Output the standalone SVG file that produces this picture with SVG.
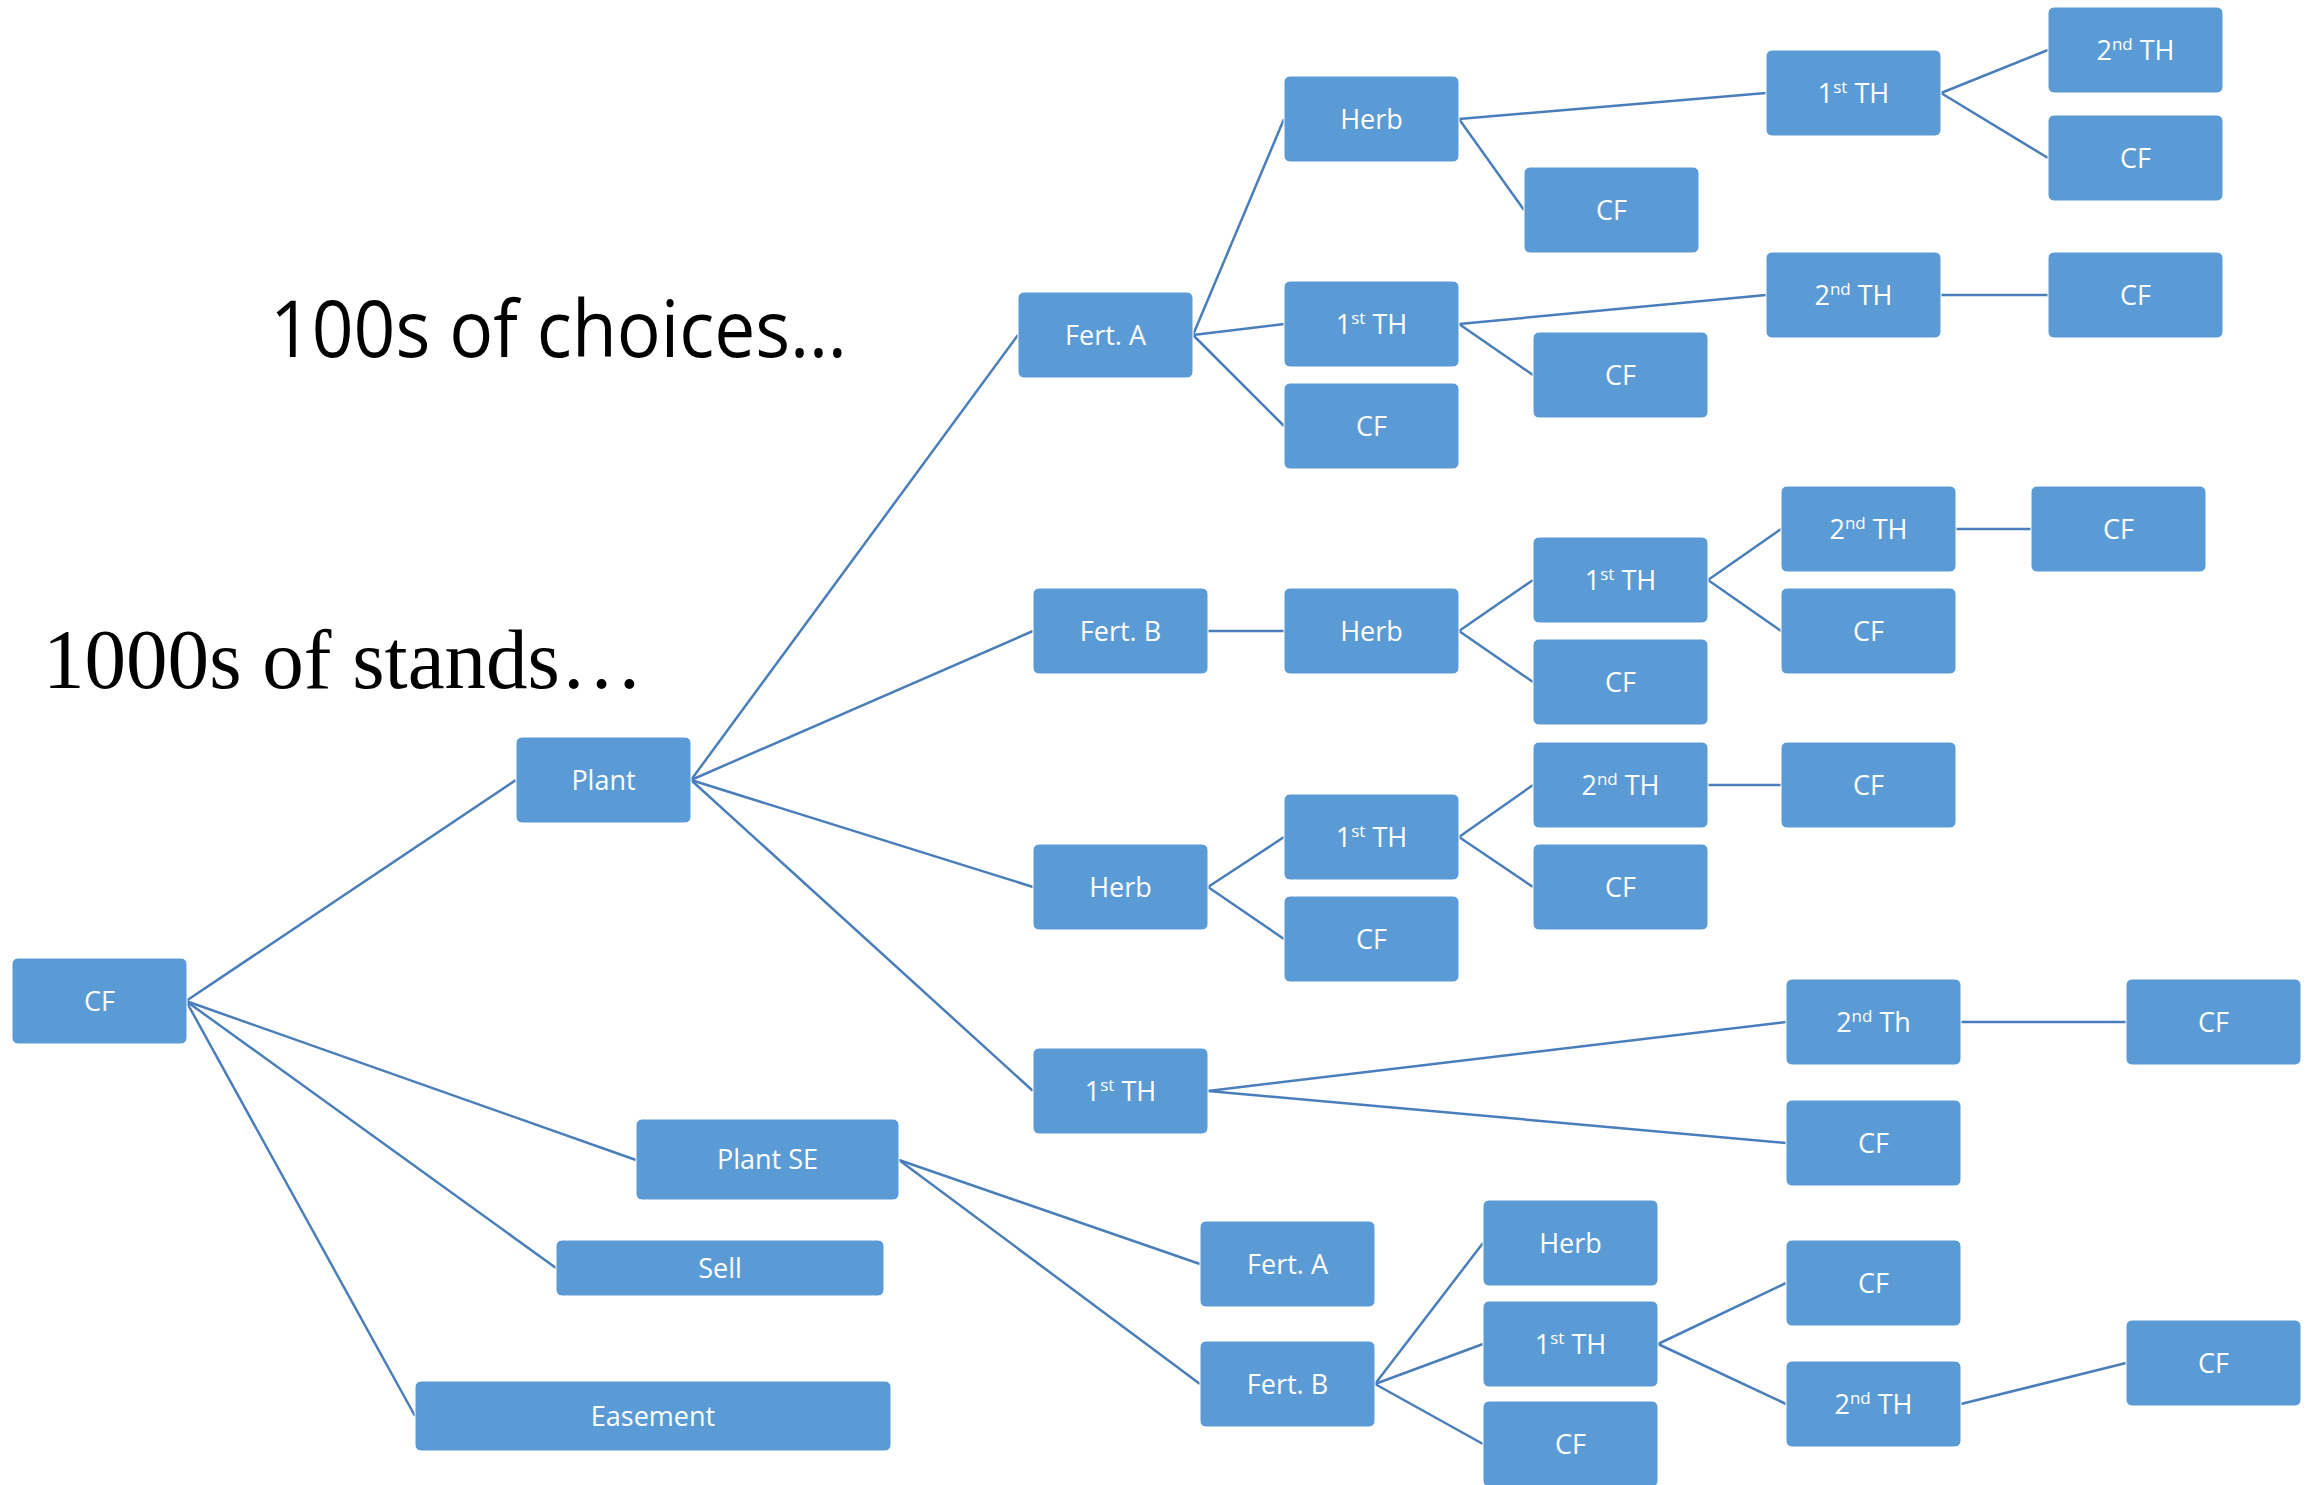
<svg xmlns="http://www.w3.org/2000/svg" width="2318" height="1485" viewBox="0 0 2318 1485">
  <style>
    .box { fill: #5b9bd5; stroke: #ffffff; stroke-width: 1; }
    .lbl { fill: #ffffff; font-family: "Open Sans", "Liberation Sans", sans-serif; font-size: 27px; text-anchor: middle; }
    .sup { font-size: 17px; }
    .edge { stroke: #4a7ebb; stroke-width: 2.5; fill: none; }
    .title { fill: #000000; }
  </style>
  <rect width="2318" height="1485" fill="#ffffff"/>

  <!-- captions -->
  <text class="title" x="270" y="357" font-family="Open Sans, Liberation Sans, sans-serif" font-size="78" textLength="577" lengthAdjust="spacingAndGlyphs">100s of choices…</text>
  <text class="title" x="43" y="688" font-family="Liberation Serif, serif" font-size="84" textLength="600" lengthAdjust="spacingAndGlyphs">1000s of stands…</text>

  <!-- connectors -->
  <g id="connectors" class="edge">
    <!-- root -->
    <line x1="186" y1="1001" x2="516" y2="780"/>
    <line x1="186" y1="1001" x2="636" y2="1160"/>
    <line x1="186" y1="1001" x2="556" y2="1268"/>
    <line x1="186" y1="1001" x2="415" y2="1416"/>
    <!-- Plant -->
    <line x1="691" y1="780" x2="1018" y2="335"/>
    <line x1="691" y1="780" x2="1033" y2="631"/>
    <line x1="691" y1="780" x2="1033" y2="887"/>
    <line x1="691" y1="780" x2="1033" y2="1091"/>
    <!-- Fert. A branch -->
    <line x1="1193" y1="335" x2="1284" y2="119"/>
    <line x1="1193" y1="335" x2="1284" y2="324"/>
    <line x1="1193" y1="335" x2="1284" y2="426"/>
    <line x1="1459" y1="119" x2="1766" y2="93"/>
    <line x1="1459" y1="119" x2="1524" y2="210"/>
    <line x1="1941" y1="93" x2="2048" y2="50"/>
    <line x1="1941" y1="93" x2="2048" y2="158"/>
    <line x1="1459" y1="324" x2="1766" y2="295"/>
    <line x1="1459" y1="324" x2="1533" y2="375"/>
    <line x1="1941" y1="295" x2="2048" y2="295"/>
    <!-- Fert. B branch -->
    <line x1="1208" y1="631" x2="1284" y2="631"/>
    <line x1="1459" y1="631" x2="1533" y2="580"/>
    <line x1="1459" y1="631" x2="1533" y2="682"/>
    <line x1="1708" y1="580" x2="1781" y2="529"/>
    <line x1="1708" y1="580" x2="1781" y2="631"/>
    <line x1="1956" y1="529" x2="2031" y2="529"/>
    <!-- Herb branch -->
    <line x1="1208" y1="887" x2="1284" y2="837"/>
    <line x1="1208" y1="887" x2="1284" y2="939"/>
    <line x1="1459" y1="837" x2="1533" y2="785"/>
    <line x1="1459" y1="837" x2="1533" y2="887"/>
    <line x1="1708" y1="785" x2="1781" y2="785"/>
    <!-- 1st TH branch -->
    <line x1="1208" y1="1091" x2="1786" y2="1022"/>
    <line x1="1208" y1="1091" x2="1786" y2="1143"/>
    <line x1="1961" y1="1022" x2="2126" y2="1022"/>
    <!-- Plant SE branch -->
    <line x1="899" y1="1160" x2="1200" y2="1264"/>
    <line x1="899" y1="1160" x2="1200" y2="1384"/>
    <line x1="1375" y1="1384" x2="1483" y2="1243"/>
    <line x1="1375" y1="1384" x2="1483" y2="1344"/>
    <line x1="1375" y1="1384" x2="1483" y2="1444"/>
    <line x1="1658" y1="1344" x2="1786" y2="1283"/>
    <line x1="1658" y1="1344" x2="1786" y2="1404"/>
    <line x1="1961" y1="1404" x2="2126" y2="1363"/>
  </g>

  <!-- root level -->
  <g id="root-cf"><rect class="box" x="12" y="958" width="175" height="86" rx="6"/><text class="lbl" x="99.5" y="1010.5">CF</text></g>
  <g id="plant"><rect class="box" x="516" y="737" width="175" height="86" rx="6"/><text class="lbl" x="603.5" y="789.5">Plant</text></g>
  <g id="plant-se"><rect class="box" x="636" y="1119" width="263" height="81" rx="6"/><text class="lbl" x="767.5" y="1169">Plant SE</text></g>
  <g id="sell"><rect class="box" x="556" y="1240" width="328" height="56" rx="6"/><text class="lbl" x="720" y="1277.5">Sell</text></g>
  <g id="easement"><rect class="box" x="415" y="1381" width="476" height="70" rx="6"/><text class="lbl" x="653" y="1425.5">Easement</text></g>

  <!-- Plant children -->
  <g id="fert-a"><rect class="box" x="1018" y="292" width="175" height="86" rx="6"/><text class="lbl" x="1105.5" y="344.5">Fert. A</text></g>
  <g id="fert-b"><rect class="box" x="1033" y="588" width="175" height="86" rx="6"/><text class="lbl" x="1120.5" y="640.5">Fert. B</text></g>
  <g id="herb"><rect class="box" x="1033" y="844" width="175" height="86" rx="6"/><text class="lbl" x="1120.5" y="896.5">Herb</text></g>
  <g id="th1"><rect class="box" x="1033" y="1048" width="175" height="86" rx="6"/><text class="lbl" x="1120.5" y="1100.5">1<tspan class="sup" dy="-10">st</tspan><tspan dy="10"> TH</tspan></text></g>

  <!-- Fert. A branch -->
  <g id="fa-herb"><rect class="box" x="1284" y="76" width="175" height="86" rx="6"/><text class="lbl" x="1371.5" y="128.5">Herb</text></g>
  <g id="fa-herb-cf"><rect class="box" x="1524" y="167" width="175" height="86" rx="6"/><text class="lbl" x="1611.5" y="219.5">CF</text></g>
  <g id="fa-herb-th1"><rect class="box" x="1766" y="50" width="175" height="86" rx="6"/><text class="lbl" x="1853.5" y="102.5">1<tspan class="sup" dy="-10">st</tspan><tspan dy="10"> TH</tspan></text></g>
  <g id="fa-herb-th1-th2"><rect class="box" x="2048" y="7" width="175" height="86" rx="6"/><text class="lbl" x="2135.5" y="59.5">2<tspan class="sup" dy="-10">nd</tspan><tspan dy="10"> TH</tspan></text></g>
  <g id="fa-herb-th1-cf"><rect class="box" x="2048" y="115" width="175" height="86" rx="6"/><text class="lbl" x="2135.5" y="167.5">CF</text></g>
  <g id="fa-th1"><rect class="box" x="1284" y="281" width="175" height="86" rx="6"/><text class="lbl" x="1371.5" y="333.5">1<tspan class="sup" dy="-10">st</tspan><tspan dy="10"> TH</tspan></text></g>
  <g id="fa-th1-cf"><rect class="box" x="1533" y="332" width="175" height="86" rx="6"/><text class="lbl" x="1620.5" y="384.5">CF</text></g>
  <g id="fa-th1-th2"><rect class="box" x="1766" y="252" width="175" height="86" rx="6"/><text class="lbl" x="1853.5" y="304.5">2<tspan class="sup" dy="-10">nd</tspan><tspan dy="10"> TH</tspan></text></g>
  <g id="fa-th1-th2-cf"><rect class="box" x="2048" y="252" width="175" height="86" rx="6"/><text class="lbl" x="2135.5" y="304.5">CF</text></g>
  <g id="fa-cf"><rect class="box" x="1284" y="383" width="175" height="86" rx="6"/><text class="lbl" x="1371.5" y="435.5">CF</text></g>

  <!-- Fert. B branch -->
  <g id="fb-herb"><rect class="box" x="1284" y="588" width="175" height="86" rx="6"/><text class="lbl" x="1371.5" y="640.5">Herb</text></g>
  <g id="fb-th1"><rect class="box" x="1533" y="537" width="175" height="86" rx="6"/><text class="lbl" x="1620.5" y="589.5">1<tspan class="sup" dy="-10">st</tspan><tspan dy="10"> TH</tspan></text></g>
  <g id="fb-cf"><rect class="box" x="1533" y="639" width="175" height="86" rx="6"/><text class="lbl" x="1620.5" y="691.5">CF</text></g>
  <g id="fb-th2"><rect class="box" x="1781" y="486" width="175" height="86" rx="6"/><text class="lbl" x="1868.5" y="538.5">2<tspan class="sup" dy="-10">nd</tspan><tspan dy="10"> TH</tspan></text></g>
  <g id="fb-th1-cf"><rect class="box" x="1781" y="588" width="175" height="86" rx="6"/><text class="lbl" x="1868.5" y="640.5">CF</text></g>
  <g id="fb-th2-cf"><rect class="box" x="2031" y="486" width="175" height="86" rx="6"/><text class="lbl" x="2118.5" y="538.5">CF</text></g>

  <!-- Herb branch -->
  <g id="h-th1"><rect class="box" x="1284" y="794" width="175" height="86" rx="6"/><text class="lbl" x="1371.5" y="846.5">1<tspan class="sup" dy="-10">st</tspan><tspan dy="10"> TH</tspan></text></g>
  <g id="h-cf"><rect class="box" x="1284" y="896" width="175" height="86" rx="6"/><text class="lbl" x="1371.5" y="948.5">CF</text></g>
  <g id="h-th2"><rect class="box" x="1533" y="742" width="175" height="86" rx="6"/><text class="lbl" x="1620.5" y="794.5">2<tspan class="sup" dy="-10">nd</tspan><tspan dy="10"> TH</tspan></text></g>
  <g id="h-th1-cf"><rect class="box" x="1533" y="844" width="175" height="86" rx="6"/><text class="lbl" x="1620.5" y="896.5">CF</text></g>
  <g id="h-th2-cf"><rect class="box" x="1781" y="742" width="175" height="86" rx="6"/><text class="lbl" x="1868.5" y="794.5">CF</text></g>

  <!-- 1st TH branch -->
  <g id="t-th2"><rect class="box" x="1786" y="979" width="175" height="86" rx="6"/><text class="lbl" x="1873.5" y="1031.5">2<tspan class="sup" dy="-10">nd</tspan><tspan dy="10"> Th</tspan></text></g>
  <g id="t-th2-cf"><rect class="box" x="2126" y="979" width="175" height="86" rx="6"/><text class="lbl" x="2213.5" y="1031.5">CF</text></g>
  <g id="t-cf"><rect class="box" x="1786" y="1100" width="175" height="86" rx="6"/><text class="lbl" x="1873.5" y="1152.5">CF</text></g>

  <!-- Plant SE branch -->
  <g id="s-fa"><rect class="box" x="1200" y="1221" width="175" height="86" rx="6"/><text class="lbl" x="1287.5" y="1273.5">Fert. A</text></g>
  <g id="s-fb"><rect class="box" x="1200" y="1341" width="175" height="86" rx="6"/><text class="lbl" x="1287.5" y="1393.5">Fert. B</text></g>
  <g id="s-herb"><rect class="box" x="1483" y="1200" width="175" height="86" rx="6"/><text class="lbl" x="1570.5" y="1252.5">Herb</text></g>
  <g id="s-th1"><rect class="box" x="1483" y="1301" width="175" height="86" rx="6"/><text class="lbl" x="1570.5" y="1353.5">1<tspan class="sup" dy="-10">st</tspan><tspan dy="10"> TH</tspan></text></g>
  <g id="s-cf"><rect class="box" x="1483" y="1401" width="175" height="86" rx="6"/><text class="lbl" x="1570.5" y="1453.5">CF</text></g>
  <g id="s-th1-cf"><rect class="box" x="1786" y="1240" width="175" height="86" rx="6"/><text class="lbl" x="1873.5" y="1292.5">CF</text></g>
  <g id="s-th2"><rect class="box" x="1786" y="1361" width="175" height="86" rx="6"/><text class="lbl" x="1873.5" y="1413.5">2<tspan class="sup" dy="-10">nd</tspan><tspan dy="10"> TH</tspan></text></g>
  <g id="s-th2-cf"><rect class="box" x="2126" y="1320" width="175" height="86" rx="6"/><text class="lbl" x="2213.5" y="1372.5">CF</text></g>
</svg>
